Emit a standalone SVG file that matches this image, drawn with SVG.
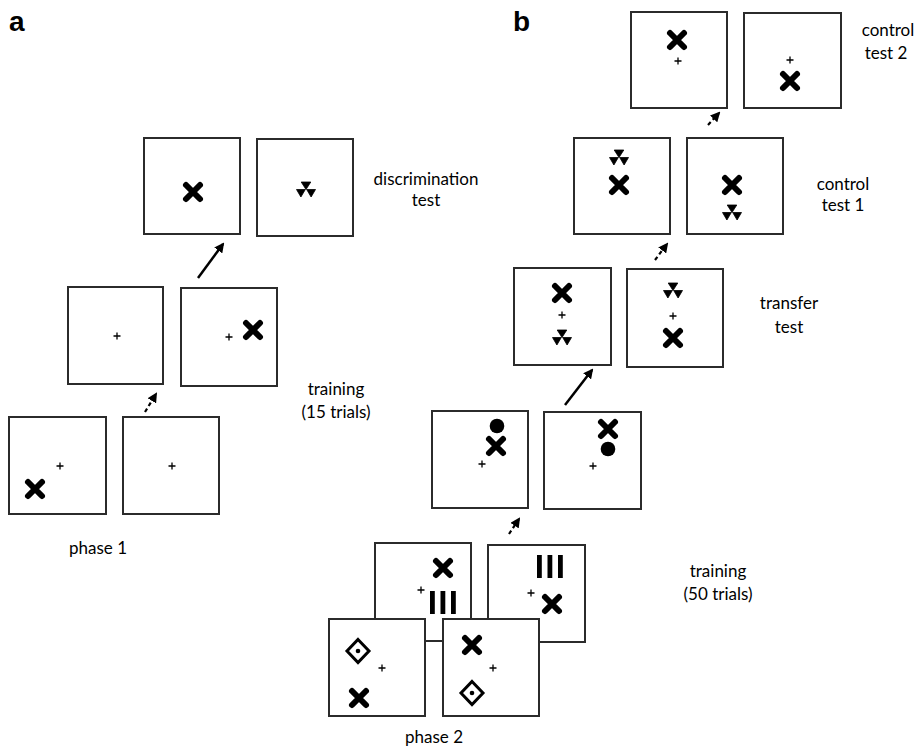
<svg xmlns="http://www.w3.org/2000/svg" xmlns:xlink="http://www.w3.org/1999/xlink" width="921" height="752" viewBox="0 0 921 752">
<style>
.box{fill:#fff;stroke:#2b2b2b;stroke-width:2}
.lbl{font-family:Lato,"Liberation Sans",sans-serif;font-size:17px;fill:#000;text-anchor:middle}
.pl{font-family:"Liberation Sans",Arial,sans-serif;font-size:28px;font-weight:bold;fill:#000}
.arr{stroke:#000;stroke-width:2.5;fill:none}
.dash{stroke:#000;stroke-width:2.2;fill:none;stroke-dasharray:4 3}
</style>
<defs>
<marker id="ah" viewBox="0 0 10 10" refX="8" refY="5" markerWidth="10" markerHeight="10" markerUnits="userSpaceOnUse" orient="auto"><path d="M0,0 L10,5 L0,10 z" fill="#000"/></marker>
<g id="x"><path d="M-7,-7 L7,7 M7,-7 L-7,7" stroke="#000" stroke-width="6" stroke-linecap="round"/></g>
<g id="p"><path d="M-3.5,0 H3.5 M0,-3.5 V3.5" stroke="#000" stroke-width="1.3"/></g>
<g id="t"><path d="M-4.8,-8 L4.8,-8 L0,-0.5 Z M-9.5,-0.5 L-0.7,-0.5 L-5.1,7 Z M0.7,-0.5 L9.5,-0.5 L5.1,7 Z" fill="#000" stroke="#000" stroke-width="0.8" stroke-linejoin="round"/></g>
<g id="d"><path d="M0,-11.5 L11,0 L0,11.5 L-11,0 Z" fill="none" stroke="#000" stroke-width="3"/><circle r="2.3" fill="#000"/></g>
<g id="c"><circle r="7.3" fill="#000"/></g>
<g id="bars"><rect x="0" y="0" width="4.8" height="23" fill="#000"/><rect x="10.5" y="0" width="4.8" height="23" fill="#000"/><rect x="21" y="0" width="4.8" height="23" fill="#000"/></g>
</defs>
<rect width="921" height="752" fill="#fff"/>

<text class="pl" x="9" y="31">a</text>
<text class="pl" x="513" y="31">b</text>

<g id="a-disc-1"><rect class="box" x="144" y="138" width="96" height="96"/><use href="#x" x="193" y="192"/></g>
<g id="a-disc-2"><rect class="box" x="257" y="139" width="96" height="97"/><use href="#t" x="306" y="190"/></g>
<g id="a-disc-label"><text class="lbl" x="426" y="185">discrimination</text><text class="lbl" x="426" y="206">test</text></g>

<g id="a-train-top-1"><rect class="box" x="68" y="287" width="95" height="97"/><use href="#p" x="117" y="336"/></g>
<g id="a-train-top-2"><rect class="box" x="181" y="288" width="96" height="98"/><use href="#p" x="229" y="337"/><use href="#x" x="253" y="330"/></g>
<g id="a-train-bot-1"><rect class="box" x="9" y="417" width="97" height="97"/><use href="#p" x="60" y="466"/><use href="#x" x="35" y="489"/></g>
<g id="a-train-bot-2"><rect class="box" x="123" y="417" width="96" height="97"/><use href="#p" x="172" y="466"/></g>
<g id="a-train-label"><text class="lbl" x="336" y="395">training</text><text class="lbl" x="336" y="418">(15 trials)</text></g>
<g id="a-phase-label"><text class="lbl" x="98" y="554">phase 1</text></g>

<g id="b-ct2-1"><rect class="box" x="631" y="12" width="96" height="96"/><use href="#x" x="677" y="40"/><use href="#p" x="678" y="61"/></g>
<g id="b-ct2-2"><rect class="box" x="744" y="13" width="97" height="95"/><use href="#p" x="790" y="60"/><use href="#x" x="790" y="81"/></g>
<g id="b-ct2-label"><text class="lbl" x="888" y="36">control</text><text class="lbl" x="886" y="59">test 2</text></g>

<g id="b-ct1-1"><rect class="box" x="574" y="138" width="96" height="96"/><use href="#t" x="619" y="158"/><use href="#x" x="619" y="185"/></g>
<g id="b-ct1-2"><rect class="box" x="687" y="138" width="96" height="96"/><use href="#x" x="732" y="185"/><use href="#t" x="732" y="213"/></g>
<g id="b-ct1-label"><text class="lbl" x="843" y="190">control</text><text class="lbl" x="843" y="211">test 1</text></g>

<g id="b-tr-1"><rect class="box" x="514" y="268" width="97" height="97"/><use href="#x" x="562" y="293"/><use href="#p" x="562" y="315"/><use href="#t" x="562" y="338"/></g>
<g id="b-tr-2"><rect class="box" x="627" y="269" width="96" height="98"/><use href="#t" x="673" y="291"/><use href="#p" x="673" y="316"/><use href="#x" x="673" y="338"/></g>
<g id="b-tr-label"><text class="lbl" x="789" y="309">transfer</text><text class="lbl" x="789" y="333">test</text></g>

<g id="b-tu-1"><rect class="box" x="432" y="411" width="96" height="97"/><use href="#c" x="497" y="426"/><use href="#x" x="496" y="446"/><use href="#p" x="482" y="464"/></g>
<g id="b-tu-2"><rect class="box" x="544" y="412" width="97" height="97"/><use href="#x" x="608" y="429"/><use href="#c" x="608" y="449"/><use href="#p" x="593" y="466"/></g>

<g id="b-back-1"><rect class="box" x="375" y="543" width="96" height="98"/><use href="#x" x="443" y="568"/><use href="#bars" x="430" y="591"/><use href="#p" x="421" y="590"/></g>
<g id="b-back-2"><rect class="box" x="488" y="545" width="97" height="97"/><use href="#bars" x="537" y="555"/><use href="#p" x="531" y="593"/><use href="#x" x="552" y="604"/></g>
<g id="b-front-1"><rect class="box" x="329" y="619" width="96" height="97"/><use href="#d" x="358" y="651"/><use href="#p" x="382" y="668"/><use href="#x" x="359" y="698"/></g>
<g id="b-front-2"><rect class="box" x="443" y="619" width="96" height="97"/><use href="#x" x="472" y="645"/><use href="#p" x="493" y="668"/><use href="#d" x="472" y="693"/></g>
<g id="b-train-label"><text class="lbl" x="718" y="577">training</text><text class="lbl" x="718" y="600">(50 trials)</text></g>
<g id="b-phase-label"><text class="lbl" x="434" y="743">phase 2</text></g>

<g id="connectors">
<line class="dash" x1="145" y1="412" x2="156" y2="394" marker-end="url(#ah)"/>
<line class="arr" x1="198" y1="278" x2="223" y2="244" marker-end="url(#ah)"/>
<line class="dash" x1="708" y1="125" x2="719" y2="113" marker-end="url(#ah)"/>
<line class="dash" x1="655" y1="260" x2="667" y2="244" marker-end="url(#ah)"/>
<line class="arr" x1="565" y1="405" x2="592" y2="370" marker-end="url(#ah)"/>
<line class="dash" x1="509" y1="534" x2="519" y2="519" marker-end="url(#ah)"/>
</g>
</svg>
